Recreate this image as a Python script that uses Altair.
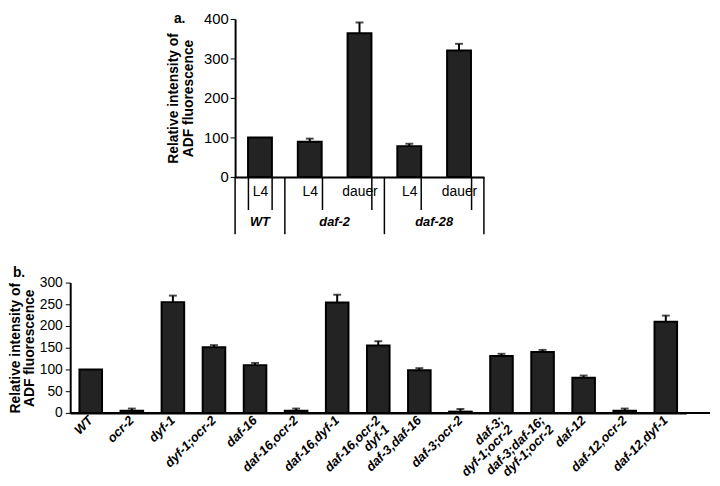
import altair as alt
import pandas as pd

# ---------- Panel a data ----------
a_stage = ["L4", "L4", "dauer", "L4", "dauer"]
a_group = ["WT", "daf-2", "daf-2", "daf-28", "daf-28"]
a_value = [100, 89, 364, 78, 320]
a_err = [0, 8, 27, 6, 17]
a_ticks = [0, 100, 200, 300, 400]

# ---------- Panel b data ----------
b_labels = ["WT", "ocr-2", "dyf-1", "dyf-1;ocr-2", "daf-16", "daf-16,ocr-2",
            "daf-16,dyf-1", "daf-16,ocr-2\ndyf-1", "daf-3,daf-16", "daf-3;ocr-2",
            "daf-3;\ndyf-1;ocr-2", "daf-3;daf-16;\ndyf-1;ocr-2", "daf-12",
            "daf-12,ocr-2", "daf-12,dyf-1"]
b_value = [100, 5, 255, 151, 110, 5, 254, 155, 98, 3, 131, 140, 81, 5, 210]
b_err = [0, 5, 15, 5, 5, 5, 18, 10, 5, 6, 5, 5, 5, 5, 14]
b_ticks = [0, 50, 100, 150, 200, 250, 300]

FONT = "Liberation Sans, Arial, sans-serif"
NARROW = "Liberation Sans Narrow, Arial Narrow, Liberation Sans, sans-serif"
BAR_FILL = "#232323"
YTITLE = ["Relative intensity of", "ADF fluorescence"]

# ---------- Panel a ----------
dfa = pd.DataFrame({
    "key": [g + "|" + s for g, s in zip(a_group, a_stage)],
    "value": a_value,
    "top": [v + e for v, e in zip(a_value, a_err)],
})
order_a = list(dfa["key"])
AW, AH = 252, 160

xa_axis = alt.Axis(labelExpr="split(datum.label, '|')[1]", labelAngle=0,
                   tickBand="extent", tickSize=33, tickWidth=1.5,
                   tickColor="black", domainColor="black", domainWidth=2,
                   labelFontSize=14, labelColor="black", labelFont=FONT,
                   labelPadding=-25)
xa_scale = alt.Scale(paddingInner=0.52, paddingOuter=0.26)
ya_axis = alt.Axis(values=a_ticks, grid=False, tickSize=5, tickColor="black",
                   domainColor="black", domainWidth=2, labelFontSize=15,
                   labelColor="black", labelFont=NARROW, titleFont=FONT,
                   titleFontSize=14, titleFontWeight="bold", titleColor="black",
                   titlePadding=8, titleLineHeight=15, labelOverlap=False)
ya_scale = alt.Scale(domain=[0, 400])


def xa():
    return alt.X("key:N", sort=order_a, title=None, scale=xa_scale, axis=xa_axis)


def ya(field):
    return alt.Y(field, title=YTITLE, scale=ya_scale, axis=ya_axis)


base_a = alt.Chart(dfa)
bars_a = base_a.mark_bar(fill=BAR_FILL, stroke="black", strokeWidth=2).encode(
    x=xa(), y=ya("value:Q"))
err_a = base_a.transform_filter("datum.top > datum.value").mark_rule(
    color="black", strokeWidth=2).encode(x=xa(), y=ya("value:Q"), y2="top:Q")
cap_a = base_a.transform_filter("datum.top > datum.value").mark_tick(
    color="black", thickness=2, size=8).encode(x=xa(), y=ya("top:Q"))
main_a = alt.layer(bars_a, err_a, cap_a)

# group table (WT / daf-2 / daf-28) on a positional helper scale
groups = []
for g in a_group:
    if g not in groups:
        groups.append(g)
counts = [a_group.count(g) for g in groups]
starts = [sum(counts[:i]) for i in range(len(counts))]
ends = [s + c for s, c in zip(starts, counts)]
dfg = pd.DataFrame({"group": groups, "mid": [(s + e) / 2 for s, e in zip(starts, ends)]})
dfb_lines = pd.DataFrame({"pos": [0] + ends})
xq = alt.Scale(domain=[0, len(a_group)])
glines = alt.Chart(dfb_lines).mark_rule(color="black", strokeWidth=1.5).encode(
    x=alt.X("pos:Q", scale=xq, axis=None), y=alt.value(AH), y2=alt.value(AH + 58))
glabels = alt.Chart(dfg).mark_text(fontSize=13, fontWeight="bold", fontStyle="italic",
                                   font=FONT, color="black").encode(
    x=alt.X("mid:Q", scale=xq, axis=None), y=alt.value(AH + 46), text="group:N")
alabel = alt.Chart(pd.DataFrame({"t": ["a."]})).mark_text(
    fontSize=14, fontWeight="bold", font=FONT, color="black", align="left").encode(
    x=alt.value(-62), y=alt.value(0), text="t:N")
deco_a = alt.layer(glines, glabels, alabel)

chart_a = alt.layer(main_a, deco_a).resolve_scale(
    x="independent").properties(width=AW, height=AH)

spacer = alt.Chart(pd.DataFrame({"t": [""]})).mark_text().encode(
    text="t:N").properties(width=97, height=10)

# ---------- Panel b ----------
dfb = pd.DataFrame({
    "label": b_labels,
    "value": b_value,
    "top": [v + e for v, e in zip(b_value, b_err)],
})
BW, BH = 624, 132
xb_axis = alt.Axis(labelExpr="split(datum.label, '\\n')", labelAngle=-45,
                   labelAlign="right", labelBaseline="middle", ticks=False,
                   domainColor="black", domainWidth=2, labelFontSize=13,
                   labelFontStyle="italic", labelFontWeight="bold",
                   labelColor="black", labelFont=FONT, labelPadding=5,
                   labelLineHeight=13)
xb_scale = alt.Scale(paddingInner=0.45, paddingOuter=0.225)
yb_axis = alt.Axis(values=b_ticks, grid=False, tickSize=5, tickColor="black",
                   domainColor="black", domainWidth=2, labelFontSize=14,
                   labelPadding=3, labelOverlap=False,
                   labelColor="black", labelFont=NARROW, titleFont=FONT,
                   titleFontSize=14, titleFontWeight="bold", titleColor="black",
                   titlePadding=3, titleLineHeight=14)
yb_scale = alt.Scale(domain=[0, 300])


def xb():
    return alt.X("label:N", sort=b_labels, title=None, scale=xb_scale, axis=xb_axis)


def yb(field):
    return alt.Y(field, title=YTITLE, scale=yb_scale, axis=yb_axis)


base_b = alt.Chart(dfb)
bars_b = base_b.mark_bar(fill=BAR_FILL, stroke="black", strokeWidth=2).encode(
    x=xb(), y=yb("value:Q"))
err_b = base_b.transform_filter("datum.top > datum.value").mark_rule(
    color="black", strokeWidth=2).encode(x=xb(), y=yb("value:Q"), y2="top:Q")
cap_b = base_b.transform_filter("datum.top > datum.value").mark_tick(
    color="black", thickness=2, size=8).encode(x=xb(), y=yb("top:Q"))
axis_ext = alt.Chart(pd.DataFrame({"v": [0]})).mark_rule(color="black", strokeWidth=2).encode(
    x=alt.value(0), x2=alt.value(648), y=alt.value(BH))
blabel = alt.Chart(pd.DataFrame({"t": ["b."]})).mark_text(
    fontSize=14, fontWeight="bold", font=FONT, color="black", align="left").encode(
    x=alt.value(-58), y=alt.value(-10), text="t:N")

chart_b = alt.layer(bars_b, err_b, cap_b, axis_ext, blabel).properties(width=BW, height=BH)

chart = alt.vconcat(
    alt.hconcat(spacer, chart_a, spacing=0),
    chart_b,
    spacing=29,
).properties(padding=0).configure(
    background="white", view=alt.ViewConfig(stroke="transparent"))

chart.save("out.html", embed_options={"renderer": "svg", "actions": False})
